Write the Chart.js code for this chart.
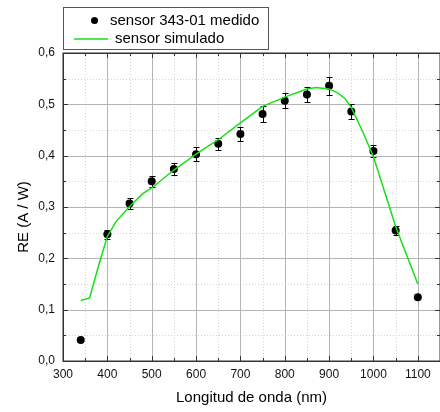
<!DOCTYPE html>
<html>
<head>
<meta charset="utf-8">
<script src="https://cdn.jsdelivr.net/npm/chart.js@4.4.1/dist/chart.umd.min.js"></script>
<style>
  html, body { margin: 0; padding: 0; background: #fff; overflow: hidden; }
  canvas { display: block; }
</style>
</head>
<body>
<canvas id="chart" width="446" height="412"></canvas>
<script>
// measured responsivity (points with error bars)
const medidoX = [340, 400, 450, 500, 550, 600, 650, 700, 750, 800, 850, 900, 950, 1000, 1050, 1100];
const medidoY = [0.041, 0.247, 0.307, 0.350, 0.374, 0.403, 0.423, 0.442, 0.481, 0.507, 0.519, 0.536, 0.486, 0.409, 0.254, 0.124];
const medidoErr = [0, 0.009, 0.010, 0.011, 0.011, 0.013, 0.012, 0.014, 0.015, 0.015, 0.015, 0.017, 0.015, 0.012, 0.009, 0];

// simulated sensor curve
const simX = [340, 360, 380, 400, 420, 450, 480, 500, 550, 600, 650, 700, 750, 800, 850, 870, 900, 920, 935, 950, 975, 1000, 1050, 1100];
const simY = [0.118, 0.123, 0.185, 0.243, 0.272, 0.301, 0.326, 0.337, 0.372, 0.403, 0.431, 0.464, 0.496, 0.514, 0.530, 0.533, 0.530, 0.522, 0.512, 0.494, 0.448, 0.398, 0.262, 0.150];

const labels = ["sensor 343-01 medido", "sensor simulado"];
const xTitle = "Longitud de onda (nm)";
const yTitle = "RE (A / W)";

const FONT = '"Liberation Sans", Arial, sans-serif';
const GREEN = "#16e016";

Chart.defaults.font.family = FONT;
Chart.defaults.color = "#111";

function seg(ctx, x1, y1, x2, y2) {
  ctx.beginPath();
  ctx.moveTo(x1, y1);
  ctx.lineTo(x2, y2);
  ctx.stroke();
}

// grid lines drawn under the data, dotted minor + solid major
const gridPlugin = {
  id: "gridPlugin",
  beforeDatasetsDraw(chart) {
    const { ctx, chartArea: a, scales: { x, y } } = chart;
    ctx.save();
    ctx.lineWidth = 1;
    ctx.strokeStyle = "#d4d4d4";
    ctx.setLineDash([1, 2]);
    for (let v = 350; v < 1150; v += 100) {
      const px = Math.round(x.getPixelForValue(v)) + 0.5;
      seg(ctx, px, a.top, px, a.bottom);
    }
    for (let v = 0.05; v < 0.6; v += 0.1) {
      const py = Math.round(y.getPixelForValue(v)) + 0.5;
      seg(ctx, a.left, py, a.right, py);
    }
    ctx.setLineDash([]);
    ctx.strokeStyle = "#b4b4b4";
    for (let v = 400; v < 1150; v += 100) {
      const px = Math.round(x.getPixelForValue(v)) + 0.5;
      seg(ctx, px, a.top, px, a.bottom);
    }
    for (let i = 1; i < 6; i++) {
      const py = Math.round(y.getPixelForValue(i / 10)) + 0.5;
      seg(ctx, a.left, py, a.right, py);
    }
    ctx.restore();
  }
};

// error bars on the measured dataset
const errorBars = {
  id: "errorBars",
  afterDatasetDraw(chart, args) {
    if (args.index !== 0) return;
    const { ctx, scales: { x, y } } = chart;
    ctx.save();
    ctx.strokeStyle = "#000";
    ctx.lineWidth = 1;
    medidoX.forEach((v, i) => {
      if (!medidoErr[i]) return;
      const px = Math.round(x.getPixelForValue(v)) + 0.5;
      const top = Math.round(y.getPixelForValue(medidoY[i] + medidoErr[i])) + 0.5;
      const bot = Math.round(y.getPixelForValue(medidoY[i] - medidoErr[i])) + 0.5;
      seg(ctx, px, top, px, bot);
      seg(ctx, px - 3, top, px + 3, top);
      seg(ctx, px - 3, bot, px + 3, bot);
    });
    ctx.restore();
  }
};

// frame with inward ticks, legend box and axis titles
const framePlugin = {
  id: "framePlugin",
  afterDraw(chart) {
    const { ctx, chartArea: a, scales: { x, y } } = chart;
    ctx.save();
    ctx.strokeStyle = "#333";
    ctx.lineWidth = 1;
    for (let v = 300; v <= 1150; v += 50) {
      const px = Math.round(x.getPixelForValue(v)) + 0.5;
      const len = v % 100 === 0 ? 5 : 3;
      seg(ctx, px, a.bottom, px, a.bottom - len);
      seg(ctx, px, a.top, px, a.top + len);
    }
    for (let i = 0; i <= 12; i++) {
      const py = Math.round(y.getPixelForValue(i * 0.05)) + 0.5;
      const len = i % 2 === 0 ? 5 : 3;
      seg(ctx, a.left, py, a.left + len, py);
      seg(ctx, a.right, py, a.right - len, py);
    }
    ctx.lineWidth = 1.5;
    ctx.strokeRect(Math.round(a.left) + 0.25, Math.round(a.top) + 0.25, a.right - a.left, a.bottom - a.top);

    // legend
    ctx.fillStyle = "#fff";
    ctx.fillRect(63.5, 7.5, 205, 42);
    ctx.strokeStyle = "#555";
    ctx.lineWidth = 1;
    ctx.strokeRect(63.5, 7.5, 205, 42);
    ctx.fillStyle = "#000";
    ctx.beginPath();
    ctx.arc(94.5, 20.5, 3.5, 0, Math.PI * 2);
    ctx.fill();
    ctx.strokeStyle = GREEN;
    ctx.lineWidth = 1.5;
    seg(ctx, 74, 39, 108, 39);
    ctx.font = "15px " + FONT;
    ctx.textBaseline = "middle";
    ctx.textAlign = "left";
    ctx.fillStyle = "#000";
    ctx.fillText(labels[0], 110, 21);
    ctx.fillText(labels[1], 115, 39);

    // axis titles
    ctx.textAlign = "center";
    ctx.fillText(xTitle, (a.left + a.right) / 2, 398);
    ctx.translate(24, 217);
    ctx.rotate(-Math.PI / 2);
    ctx.fillText(yTitle, 0, 0);
    ctx.restore();
  }
};

new Chart(document.getElementById("chart"), {
  type: "scatter",
  data: {
    datasets: [
      {
        label: labels[0],
        data: medidoX.map((v, i) => ({ x: v, y: medidoY[i] })),
        pointRadius: 4,
        pointBackgroundColor: "#000",
        pointBorderColor: "#000",
        pointBorderWidth: 0,
        showLine: false,
        order: 1
      },
      {
        label: labels[1],
        data: simX.map((v, i) => ({ x: v, y: simY[i] })),
        showLine: true,
        borderColor: GREEN,
        borderWidth: 1.5,
        pointRadius: 0,
        tension: 0,
        order: 0
      }
    ]
  },
  options: {
    responsive: false,
    animation: false,
    devicePixelRatio: 1,
    layout: { padding: { top: 53, right: 4, left: 0, bottom: 0 } },
    plugins: { legend: { display: false }, tooltip: { enabled: false } },
    scales: {
      x: {
        type: "linear",
        min: 300,
        max: 1150,
        grid: { display: false, drawTicks: false },
        border: { display: false },
        afterFit: (s) => { s.height = 51; },
        ticks: {
          stepSize: 50,
          autoSkip: false,
          maxRotation: 0,
          padding: 6,
          font: { size: 12 },
          callback: (v) => (v % 100 === 0 && v <= 1100 ? String(v) : "")
        }
      },
      y: {
        min: 0,
        max: 0.6,
        grid: { display: false, drawTicks: false },
        border: { display: false },
        afterFit: (s) => { s.width = 63; },
        ticks: {
          stepSize: 0.1,
          padding: 8,
          font: { size: 12 },
          callback: (v) => v.toFixed(1).replace(".", ",")
        }
      }
    }
  },
  plugins: [gridPlugin, errorBars, framePlugin]
});
</script>
</body>
</html>
